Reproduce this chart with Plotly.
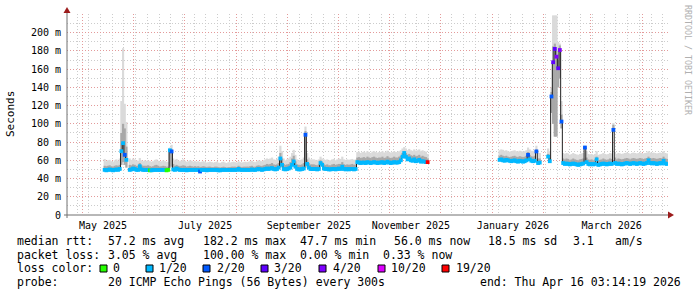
import pandas as pd
import plotly.graph_objects as go

# ---------------- data (daily medians in ms, smoke extents, loss codes) ----------------
DAY0 = pd.Timestamp("2025-04-22 00:00:00")
X_START = "2025-04-22 00:00:00"
X_END = "2026-04-16 03:14:19"

seg_a_start = 22
med_a = [49.5, 49.0, 49.5, 50.0, 49.5, 49.0, 49.5, 50.0, 49.5, 50.5,
         70.0, 78.8, 66.0, 60.5,
         None,
         49.5, 50.0, 51.0, 50.5, 49.5, 49.5, 53.5, 50.0, 49.5, 49.5,
         49.5, 49.5, 49.0, 49.0, 49.5, 49.5, 49.5, 49.5, 49.5, 49.5,
         49.5, 49.5, 49.0, 49.5, 71.0, 69.7, 50.0, 49.5, 51.0, 50.0,
         49.5, 49.5, 49.5, 49.5, 49.0, 49.5, 49.5, 49.5, 49.5, 49.5,
         49.5, 49.5, 47.7, 49.5, 49.5, 49.5, 49.0, 49.5, 49.5, 49.5,
         49.5, 49.5, 49.5, 49.0, 49.0, 49.5, 49.5, 49.5, 49.5, 49.5,
         49.5, 49.5, 49.5, 49.5, 49.5, 50.5, 49.5, 49.5, 49.5, 49.5,
         49.5, 49.5, 49.5, 50.0, 49.5, 49.5, 50.0, 50.5, 50.0, 49.5,
         50.0, 50.5, 51.0, 50.5, 51.0, 51.5, 50.5, 50.0, 50.5, 52.0,
         62.0, 55.0, 50.5, 50.0, 50.5, 51.0, 52.0, 55.0, 58.7, 53.0,
         50.5, 50.0, 50.0, 50.5, 51.0, 88.0, 56.0, 52.0, 50.5, 50.5,
         50.5, 50.5, 50.0, 50.5, 57.0, 55.0, 51.0, 50.5, 50.5, 50.0,
         50.0, 50.5, 50.5, 50.0, 50.5, 51.0, 50.5, 53.0, 50.5, 50.0,
         50.5, 50.0, 50.5, 50.5, 50.0, 50.5, 58.0, 57.5, 57.0, 57.5,
         57.5, 57.0, 58.0, 57.5, 57.0, 57.5, 58.0, 57.5, 57.0, 57.5,
         57.5, 58.0, 57.0, 57.5, 58.5, 57.5, 57.0, 57.5, 58.0, 57.5,
         57.5, 58.0, 60.0, 64.0, 68.0, 64.0, 61.0, 62.0, 60.0, 59.5,
         61.0, 59.0, 59.5, 60.5, 58.5, 59.0, 58.5, 58.0, 58.0]
top_a = [61.5, 59.0, 60.0, 60.5, 59.0, 58.0, 60.0, 61.0, 59.5, 62.0,
         125.0, 183.0, 122.0, 102.0,
         None,
         62.0, 60.5, 62.0, 61.0, 60.0, 59.5, 62.5, 60.0, 59.0, 60.0,
         59.5, 60.0, 59.0, 58.5, 59.0, 60.5, 61.0, 59.5, 58.5, 59.0,
         60.0, 59.0, 58.5, 58.0, 74.0, 77.0, 62.0, 60.0, 61.5, 60.0,
         59.0, 60.0, 61.0, 59.5, 58.5, 59.0, 60.0, 59.5, 58.5, 59.0,
         58.5, 59.0, 58.0, 58.5, 59.0, 58.0, 57.5, 58.0, 58.5, 58.0,
         57.5, 58.0, 58.5, 57.5, 57.0, 58.0, 58.5, 57.5, 57.0, 58.0,
         57.5, 58.0, 58.5, 58.0, 57.5, 59.0, 58.0, 57.5, 58.0, 58.5,
         58.0, 58.5, 59.0, 59.5, 58.5, 58.0, 59.0, 60.0, 59.5, 59.0,
         60.0, 61.0, 62.0, 61.5, 62.0, 63.0, 61.0, 60.5, 61.5, 64.0,
         76.0, 70.0, 62.0, 60.0, 61.0, 62.0, 64.0, 68.0, 71.5, 66.0,
         61.0, 60.0, 60.5, 61.0, 63.0, 97.0, 68.0, 63.0, 61.0, 61.0,
         61.0, 60.5, 60.0, 61.0, 64.0, 62.0, 61.0, 60.5, 61.0, 60.0,
         60.0, 61.0, 61.5, 60.0, 61.0, 62.0, 61.5, 64.0, 61.0, 60.5,
         61.0, 60.5, 61.0, 61.5, 60.5, 61.0, 69.0, 69.5, 68.0, 69.0,
         69.5, 68.5, 70.0, 69.0, 68.0, 69.5, 70.0, 69.0, 68.5, 69.0,
         69.0, 70.0, 68.5, 69.0, 70.5, 69.0, 68.5, 69.0, 70.0, 69.0,
         69.0, 70.0, 71.0, 73.0, 74.5, 73.0, 71.0, 72.5, 71.0, 70.5,
         72.0, 70.5, 71.0, 72.0, 70.0, 71.0, 70.0, 69.5, 67.0]
mid_a = [54.0, 53.5, 54.0, 54.5, 53.5, 53.0, 54.0, 54.5, 54.0, 55.0,
         90.0, 100.0, 95.0, 75.0,
         None,
         55.0, 54.5, 55.5, 55.0, 54.0, 54.0, 57.0, 54.5, 54.0, 54.0,
         54.0, 54.5, 53.5, 53.0, 53.5, 54.5, 55.0, 54.0, 53.0, 53.5,
         54.0, 53.5, 53.0, 53.0, 72.0, 72.0, 56.0, 54.0, 55.0, 54.0,
         53.5, 54.0, 54.5, 54.0, 53.0, 53.5, 54.0, 53.5, 53.0, 53.5,
         53.0, 53.5, 52.5, 53.0, 53.5, 53.0, 52.5, 53.0, 53.0, 52.5,
         52.5, 53.0, 53.0, 52.5, 52.0, 52.5, 53.0, 52.5, 52.0, 52.5,
         52.5, 53.0, 53.0, 53.0, 52.5, 54.0, 53.0, 52.5, 53.0, 53.0,
         53.0, 53.0, 53.5, 54.0, 53.0, 53.0, 54.0, 54.5, 54.0, 53.5,
         54.5, 55.0, 56.0, 55.5, 56.0, 57.0, 55.5, 55.0, 55.5, 57.0,
         68.0, 62.0, 56.0, 55.0, 55.5, 56.0, 58.0, 62.0, 65.0, 59.0,
         55.5, 55.0, 55.0, 55.5, 57.0, 92.0, 61.0, 57.0, 55.5, 55.5,
         55.5, 55.0, 54.5, 55.5, 60.0, 58.0, 55.5, 55.0, 55.5, 54.5,
         54.5, 55.5, 56.0, 55.0, 55.5, 56.0, 56.0, 58.0, 55.5, 55.0,
         55.5, 55.0, 55.5, 56.0, 55.0, 55.5, 63.0, 63.5, 62.5, 63.0,
         63.5, 62.5, 64.0, 63.0, 62.5, 63.5, 64.0, 63.0, 62.5, 63.0,
         63.0, 64.0, 62.5, 63.0, 64.5, 63.0, 62.5, 63.0, 64.0, 63.0,
         63.0, 64.0, 65.0, 68.0, 70.0, 68.0, 66.0, 67.0, 65.5, 65.0,
         66.0, 64.5, 65.0, 66.0, 64.0, 65.0, 64.0, 63.5, 62.0]
loss_a = ("1111111111" "1121" "-"
          "1111111111" "1101111111" "1100121111" "1111111111" "1121111111"
          "1111111111" "1111111111" "1111111111" "1111111111" "1111111111"
          "1111121111"
          "1111111111" "1111111111" "1111111111" "1111111111" "1111111111" "1111111111"
          "11111111j")

seg_c_start = 258
med_c = [60.5, 61.0, 60.0, 59.5, 60.5, 60.0, 59.5, 59.0, 59.5, 60.0,
         59.0, 58.5, 59.5, 59.0, 58.5, 59.0, 60.0, 66.0, 61.0, 59.5,
         59.0, 59.5, 69.7, 57.0, 57.5]
top_c = [71.0, 72.0, 71.5, 70.5, 71.0, 70.0, 69.5, 70.0, 70.5, 71.0,
         70.0, 69.5, 70.5, 70.0, 69.5, 70.0, 71.0, 74.0, 72.0, 70.5,
         70.0, 71.0, 76.0, 68.0, 68.0]
mid_c = [65.0, 66.0, 65.0, 64.5, 65.0, 64.0, 63.5, 64.0, 64.5, 65.0,
         64.0, 63.5, 64.5, 64.0, 63.5, 64.0, 65.0, 69.0, 66.0, 64.5,
         64.0, 65.0, 72.0, 62.0, 62.0]
loss_c = "1111111111" "1111111211" "11211"

seg_d_start = 287
med_d = [64.0, 59.0, 130.0, 167.6, 182.2, 173.7, 161.0, 181.0, 102.5, 57.0,
         56.0, 56.5, 56.0, 55.5, 56.0, 56.5, 56.0, 55.5, 55.0, 55.5,
         56.0, 56.5, 74.0, 58.0, 56.0, 55.5, 56.0, 55.5, 56.0, 61.0,
         55.0, 55.5, 56.0, 56.5, 56.0, 55.5, 56.0, 56.5, 56.0, 93.4,
         57.0, 56.0, 56.5, 56.0, 55.5, 56.0, 56.5, 57.0, 56.5, 56.0,
         56.5, 57.0, 56.5, 56.0, 56.5, 57.0, 56.5, 56.0, 56.5, 57.0,
         60.0, 57.0, 56.5, 57.0, 56.5, 56.0, 56.5, 57.0, 56.5, 59.5,
         56.5, 56.0]
top_d = [73.0, 70.0, 140.0, 219.0, 219.0, 219.0, 190.0, 188.0, 125.0, 68.0,
         67.0, 68.0, 67.5, 66.0, 67.0, 68.0, 67.0, 66.5, 66.0, 67.0,
         67.5, 68.0, 76.0, 70.0, 67.0, 66.5, 67.0, 66.0, 67.0, 70.0,
         66.0, 66.5, 67.0, 68.0, 67.0, 66.5, 67.0, 68.0, 67.5, 101.0,
         69.0, 67.0, 68.0, 67.5, 67.0, 67.5, 68.0, 68.5, 68.0, 67.0,
         68.0, 68.5, 68.0, 67.5, 68.0, 68.5, 68.0, 67.5, 68.0, 68.5,
         70.0, 68.5, 68.0, 68.5, 68.0, 67.5, 68.0, 68.5, 68.0, 70.0,
         68.0, 67.5]
mid_d = [67.0, 63.0, 135.0, 185.0, 188.0, 180.0, 170.0, 186.0, 110.0, 62.0,
         61.0, 62.0, 61.5, 60.0, 61.0, 62.0, 61.0, 60.5, 60.0, 61.0,
         61.5, 62.0, 75.0, 63.0, 61.0, 60.5, 61.0, 60.0, 61.0, 64.0,
         60.0, 60.5, 61.0, 62.0, 61.0, 60.5, 61.0, 62.0, 61.5, 99.0,
         63.0, 61.0, 62.0, 61.5, 61.0, 61.5, 62.0, 62.5, 62.0, 61.0,
         62.0, 62.5, 62.0, 61.5, 62.0, 62.5, 62.0, 61.5, 62.0, 62.5,
         64.0, 62.5, 62.0, 62.5, 62.0, 61.5, 62.0, 62.5, 62.0, 64.0,
         62.0, 61.5]
loss_d = ("1123343421" "1111111111" "1121111111" "1111111112"
          "1111111111" "1111111111" "1111111111" "11")

# lowest ping on days where the smoke reaches below the median
low_days = [32, 33, 34, 35, 61, 62, 127, 142, 289, 290, 291, 292, 293, 294, 295]
low_vals = [55, 58, 55, 52, 53, 53, 52, 52, 112, 100, 86, 86, 140, 150, 95]

loss_names = ["0", "1/20", "2/20", "3/20", "4/20", "10/20", "19/20"]
loss_keys = ["0", "1", "2", "3", "4", "a", "j"]
loss_hex = ["#26ff00", "#00b8ff", "#0059ff", "#5e00ff", "#7e00ff", "#dd00ff", "#ff0000"]

y_ticks = [0, 20, 40, 60, 80, 100, 120, 140, 160, 180, 200]
y_ticktext = ["0", "20 m", "40 m", "60 m", "80 m", "100 m", "120 m", "140 m", "160 m", "180 m", "200 m"]
x_labels = ["May 2025", "July 2025", "September 2025", "November 2025", "January 2026", "March 2026"]
x_label_dates = ["2025-05-13 12:00", "2025-07-13 12:00", "2025-09-13 12:00",
                 "2025-11-13 12:00", "2026-01-13 12:00", "2026-03-13 12:00"]

stats_rtt = ["median rtt:", "57.2 ms avg", "182.2 ms max", "47.7 ms min", "56.0 ms now", "18.5 ms sd", "3.1", "am/s"]
stats_loss = ["packet loss:", "3.05 % avg", "100.00 % max", "0.00 % min", "0.33 % now"]
probe_text = ["probe:", "20 ICMP Echo Pings (56 Bytes) every 300s", "end: Thu Apr 16 03:14:19 2026"]

# ---------------- build marks ----------------
FONT = "DejaVu Sans Mono"
DAY_MS = 86400000
BAR_W = DAY_MS * 1.3
color_of = dict(zip(loss_keys, loss_hex))
low_map = dict(zip(low_days, low_vals))

def ts(t):
    return t.strftime("%Y-%m-%d %H:%M:%S")

bx, bbase, btop, bmid, bmed, bcol = [], [], [], [], [], []
lx, ly = [], []
for start, med, top, mid, loss in [(seg_a_start, med_a, top_a, mid_a, loss_a),
                                   (seg_c_start, med_c, top_c, mid_c, loss_c),
                                   (seg_d_start, med_d, top_d, mid_d, loss_d)]:
    assert len(med) == len(top) == len(mid) == len(loss), (start, len(med), len(top), len(mid), len(loss))
    prev = None
    for i, m in enumerate(med):
        d = start + i
        day = DAY0 + pd.Timedelta(days=d)
        if m is None:
            if prev is not None:
                lx.append(ts(day)); ly.append(prev)
            lx.append(ts(day)); ly.append(None)
            prev = None
            continue
        lo = low_map.get(d, m)
        bx.append(ts(day + pd.Timedelta(hours=12)))
        bbase.append(lo)
        btop.append(top[i] - lo)
        bmid.append(mid[i] - lo)
        bmed.append(m)
        bcol.append(color_of[loss[i]])
        lx.append(ts(day)); ly.append(m)
        prev = m
    endday = DAY0 + pd.Timedelta(days=start + len(med))
    lx.append(ts(endday)); ly.append(prev)
    lx.append(ts(endday)); ly.append(None)

fig = go.Figure()
fig.add_trace(go.Bar(x=bx, y=btop, base=bbase, width=BAR_W,
                     marker=dict(color="#dadada", line=dict(width=0)), hoverinfo="skip", showlegend=False))
fig.add_trace(go.Bar(x=bx, y=bmid, base=bbase, width=BAR_W,
                     marker=dict(color="#a8a8a8", line=dict(width=0)), hoverinfo="skip", showlegend=False))
fig.add_trace(go.Scatter(x=lx, y=ly, mode="lines", line=dict(color="#202020", width=1, shape="hv"),
                         connectgaps=False, hoverinfo="skip", showlegend=False))
fig.add_trace(go.Scatter(x=bx, y=bmed, mode="markers",
                         marker=dict(symbol="square", size=3.8, color=bcol, line=dict(width=0)),
                         hoverinfo="skip", showlegend=False))
fig.add_trace(go.Scatter(x=[X_START], y=[None], xaxis="x2", yaxis="y", showlegend=False, hoverinfo="skip"))

# ---------------- layout ----------------
L, R, T, B = 67, 668, 14, 215
W, H = 697, 297
PW, PH = R - L, B - T
YMAX = 220.5
MAJOR = "#e39a9a"
MINOR = "#cccccc"
DOT = "1px,2px"

month_starts = [ts(t) for t in pd.date_range("2025-05-01", "2026-04-01", freq="MS")]

fig.update_layout(
    width=W, height=H, autosize=False,
    margin=dict(l=L, r=W - R, t=T, b=H - B, pad=0),
    paper_bgcolor="white", plot_bgcolor="white",
    barmode="overlay", showlegend=False,
    font=dict(family=FONT, size=10, color="#000"),
    xaxis=dict(type="date", range=[X_START, X_END], tickvals=month_starts, showticklabels=False,
               ticks="", showgrid=True, gridcolor=MAJOR, griddash=DOT, gridwidth=1,
               minor=dict(tick0="2025-04-21", dtick=7 * DAY_MS, showgrid=True, gridcolor=MINOR,
                          griddash=DOT, gridwidth=1),
               showline=False, zeroline=False, fixedrange=True),
    xaxis2=dict(type="date", overlaying="x", anchor="y", side="bottom", range=[X_START, X_END],
                tickvals=x_label_dates, ticktext=x_labels, showgrid=False, ticks="",
                ticklabelstandoff=3,
                tickfont=dict(family=FONT, size=10, color="#000"), showline=False, zeroline=False),
    yaxis=dict(range=[0, YMAX], tickvals=y_ticks, ticktext=y_ticktext, showgrid=True,
               gridcolor=MAJOR, griddash=DOT, gridwidth=1,
               minor=dict(dtick=10, tick0=0, showgrid=True, gridcolor=MINOR, griddash=DOT, gridwidth=1),
               ticks="", ticklabelstandoff=5, tickfont=dict(family=FONT, size=10, color="#000"),
               showline=False, zeroline=False, fixedrange=True),
)

def fx(px):
    return (px - L) / PW

def fy(py):
    return (B - py) / PH

def text(px, py, s, size=11.5, color="#000", anchor="left", angle=0):
    fig.add_annotation(x=fx(px), y=fy(py), xref="paper", yref="paper", text=s, showarrow=False,
                       xanchor=anchor, yanchor="middle", textangle=angle, borderpad=0,
                       font=dict(family=FONT, size=size, color=color))

# axes lines and arrows
fig.add_shape(type="line", xref="paper", yref="paper", x0=fx(67), x1=fx(67), y0=fy(218), y1=fy(12),
              line=dict(color="#707070", width=1))
fig.add_shape(type="line", xref="paper", yref="paper", x0=fx(64), x1=fx(669), y0=fy(215), y1=fy(215),
              line=dict(color="#707070", width=1))
fig.add_shape(type="path", xref="paper", yref="paper",
              path=f"M {fx(63.5)},{fy(13)} L {fx(70.5)},{fy(13)} L {fx(67)},{fy(7)} Z",
              fillcolor="#9c1c1c", line=dict(width=0))
fig.add_shape(type="path", xref="paper", yref="paper",
              path=f"M {fx(668)},{fy(211.5)} L {fx(668)},{fy(218.5)} L {fx(674)},{fy(215)} Z",
              fillcolor="#9c1c1c", line=dict(width=0))

# axis title & watermark
text(11, 114, "Seconds", size=11, anchor="center", angle=-90)
text(688, 60, "RRDTOOL / TOBI OETIKER", size=8.3, color="#b0b0b0", anchor="center", angle=90)

# legend block
for px, s in zip([16, 107, 202, 299, 393, 487, 572, 614], stats_rtt):
    text(px, 241, s)
for px, s in zip([16, 107, 202, 299, 382], stats_loss):
    text(px, 255, s)
text(16, 268, "loss color:")
for bx0, tx, name, col in zip([100, 146, 203, 261, 319, 378, 442],
                              [112, 158, 216, 273, 332, 390, 455], loss_names, loss_hex):
    fig.add_shape(type="rect", xref="paper", yref="paper", x0=fx(bx0), x1=fx(bx0 + 7),
                  y0=fy(272), y1=fy(265), fillcolor=col, line=dict(color="#000", width=1))
    text(tx, 268, name)
for px, s in zip([16, 107, 479], probe_text):
    text(px, 282, s)

fig.write_html("out.html")
